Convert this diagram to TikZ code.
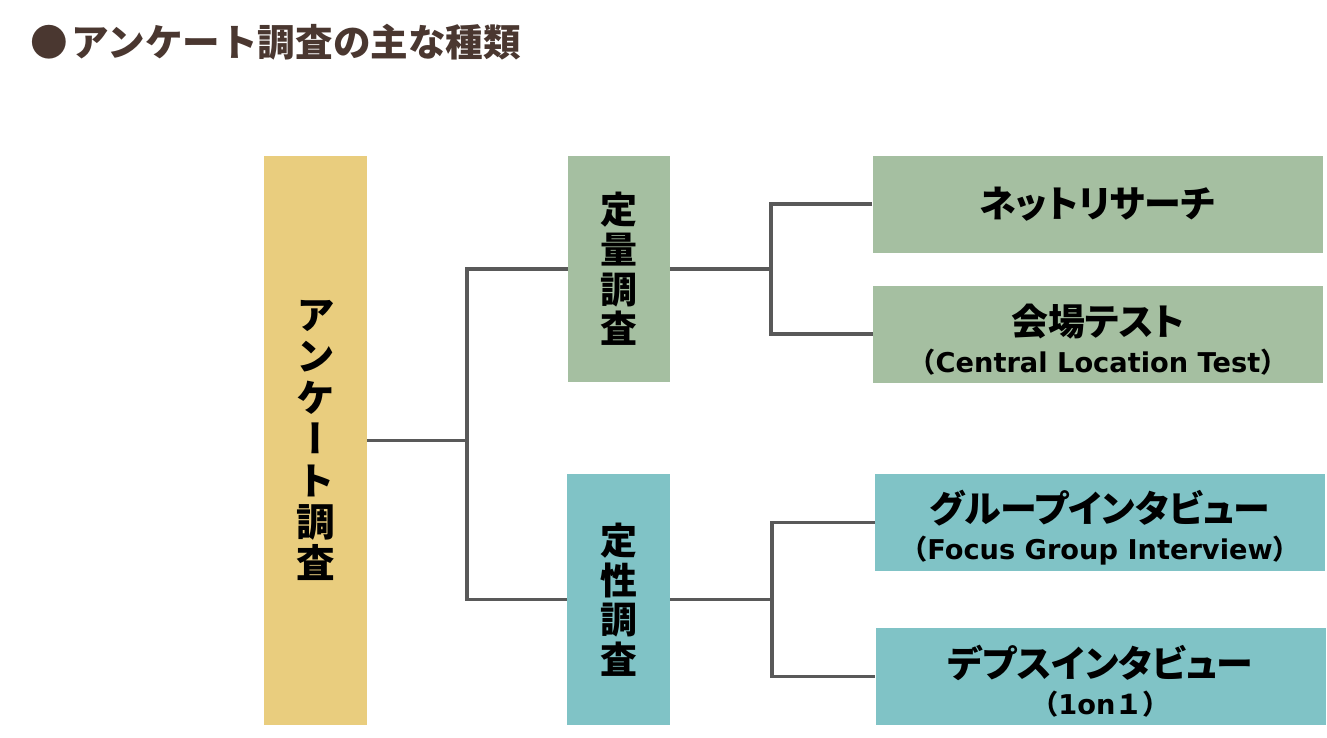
\documentclass[tikz,border=0pt]{standalone}
\usepackage{fontspec}
\setmainfont{Noto Sans CJK JP}[RawFeature=+palt]
\newfontfamily\jpfull{Noto Sans CJK JP}
\newfontfamily\jpvert{Noto Sans CJK JP}[RawFeature=+vert]
\newfontfamily\latinsub{DejaVu Sans}
\usetikzlibrary{positioning}

\definecolor{titlebrown}{HTML}{4A3730}
\definecolor{boxyellow}{HTML}{E9CD7E}
\definecolor{boxgreen}{HTML}{A5BFA1}
\definecolor{boxteal}{HTML}{80C3C6}
\definecolor{linegray}{HTML}{595959}

% second line of a box: Latin part in a wider face
\newcommand{\subline}[2][]{{\jpfull\bfseries\fontsize{15.5}{17}\selectfont（{\latinsub\bfseries #2}#1）}}
\newcommand{\firstline}{\rule{0pt}{24pt}}

\begin{document}
\begin{tikzpicture}[
  x=0.02cm, y=-0.02cm,
  box/.style={inner sep=0pt, align=center, text=black},
  vbox/.style={box, font=\jpvert\bfseries\fontsize{21}{22.5}\selectfont},
  hbox/.style={box, minimum width=450*0.02cm, minimum height=97*0.02cm,
               font=\bfseries\fontsize{21}{26}\selectfont},
  conn/.style={draw=linegray, line width=2.2pt}
]
\useasboundingbox (0,0) rectangle (1327,737);

% title
\node[anchor=west, text=titlebrown, font=\jpfull\bfseries\fontsize{21.4}{24}\selectfont, inner sep=0pt]
  (title) at (30,42) {●\hspace{2pt}アンケート調査の主な種類};

% main column
\node[vbox, fill=boxyellow, minimum width=103*0.02cm, minimum height=569*0.02cm,
      font=\jpvert\bfseries\fontsize{22}{23.6}\selectfont]
  (ank) at (315.5,440.5) {ア\\ン\\ケ\\ー\\ト\\調\\査};

% second column
\node[vbox, fill=boxgreen, minimum width=102*0.02cm, minimum height=226*0.02cm]
  (teiryo) at (619,269) {定\\量\\調\\査};
\node[vbox, fill=boxteal, minimum width=103*0.02cm, minimum height=251*0.02cm]
  (teisei) at (618.5,599.5) {定\\性\\調\\査};

% third column
\node[hbox, fill=boxgreen] (net) at (1097.5,204) {ネットリサーチ};
\node[hbox, fill=boxgreen] (kaijo) at (1098,334)
  {\firstline 会場テスト\\[-5pt]\subline{Central Location Test}};
\node[hbox, fill=boxteal] (group) at (1100,522.5)
  {\firstline グループインタビュー\\[-5pt]\subline{Focus Group Interview}};
\node[hbox, fill=boxteal] (depth) at (1100.5,676.5)
  {\firstline デプスインタビュー\\[-5pt]\subline[１]{1on}};

% joints
\coordinate (j1) at (467,440.5);
\coordinate (j2) at (771,269);
\coordinate (j3) at (772,599.5);

\draw[conn] (ank.east) -- (j1);
\draw[conn] (teiryo.west) -| (j1) |- (teisei.west);
\draw[conn] (teiryo.east) -- (j2);
\draw[conn] (net.west) -| (j2) |- (kaijo.west);
\draw[conn] (teisei.east) -- (j3);
\draw[conn] (group.west) -| (j3) |- (depth.west);
\end{tikzpicture}
\end{document}
